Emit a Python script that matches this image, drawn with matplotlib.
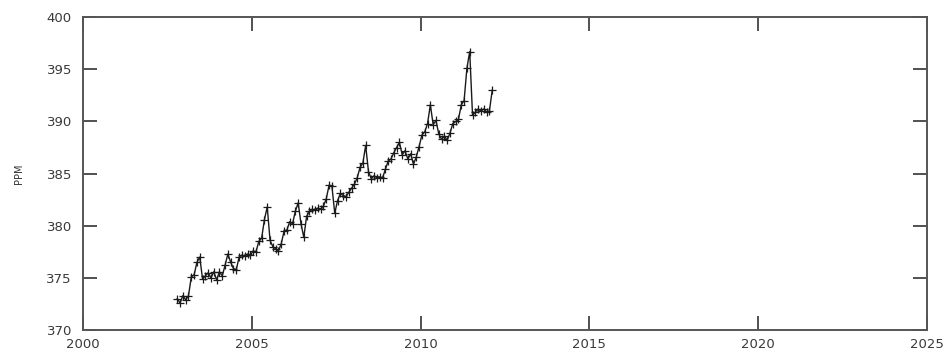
import numpy as np
import matplotlib.pyplot as plt

# monthly mean CO2, Oct 2002 - Feb 2012
start_year = 2002
start_month = 10
ppm = [
    373.0, 372.6, 373.3,
    372.9, 373.3, 375.1, 375.3, 376.5, 377.0, 374.9, 375.2, 375.5, 375.0, 375.6, 374.8,
    375.6, 375.2, 376.2, 377.3, 376.5, 375.9, 375.8, 377.0, 377.2, 377.1, 377.3, 377.2,
    377.6, 377.5, 378.5, 378.8, 380.6, 381.8, 378.6, 378.0, 377.8, 377.6, 378.3, 379.5,
    379.6, 380.4, 380.2, 381.4, 382.2, 380.2, 378.9, 380.9, 381.4, 381.6, 381.5, 381.7,
    381.6, 381.9, 382.6, 383.9, 383.8, 381.2, 382.4, 383.1, 382.9, 382.8, 383.2, 383.6,
    384.0, 384.6, 385.6, 386.0, 387.7, 385.2, 384.5, 384.8, 384.6, 384.7, 384.6, 385.4,
    386.2, 386.4, 387.0, 387.5, 388.0, 386.8, 387.2, 386.4, 386.9, 385.9, 386.6, 387.6,
    388.7, 389.0, 389.8, 391.6, 389.7, 390.1, 388.8, 388.3, 388.6, 388.2, 388.9, 389.8,
    390.0, 390.2, 391.6, 392.0, 395.1, 396.7, 390.6, 390.9, 391.2, 391.0, 391.2, 390.9,
    391.0, 393.0,
]
xticks = [2000, 2005, 2010, 2015, 2020, 2025]
yticks = [370, 375, 380, 385, 390, 395, 400]

months = np.arange(len(ppm)) + (start_month - 1)
dates = start_year + (months + 0.5) / 12.0

fig = plt.figure(figsize=(9.49, 3.58), dpi=100)
ax = fig.add_axes([0.0875, 0.078, 0.889, 0.874])

ax.plot(dates, ppm, color='#1a1a1a', linewidth=1.0, marker='+',
        markersize=6, markeredgewidth=0.9)

ax.set_xlim(2000, 2025)
ax.set_ylim(370, 400)
ax.set_xticks(xticks)
ax.set_yticks(yticks)
ax.tick_params(direction='in', length=10, width=1.2, color='#333333',
               labelsize=9.5, labelcolor='#3a3a3a', top=True, right=True)
ax.tick_params(axis='x', pad=6)
ax.tick_params(axis='y', pad=8)
ax.set_ylabel('PPM', fontsize=7, color='#333333', labelpad=16)

for s in ax.spines.values():
    s.set_color('#555555')
    s.set_linewidth(1.4)

fig.savefig('out.png', dpi=100)
